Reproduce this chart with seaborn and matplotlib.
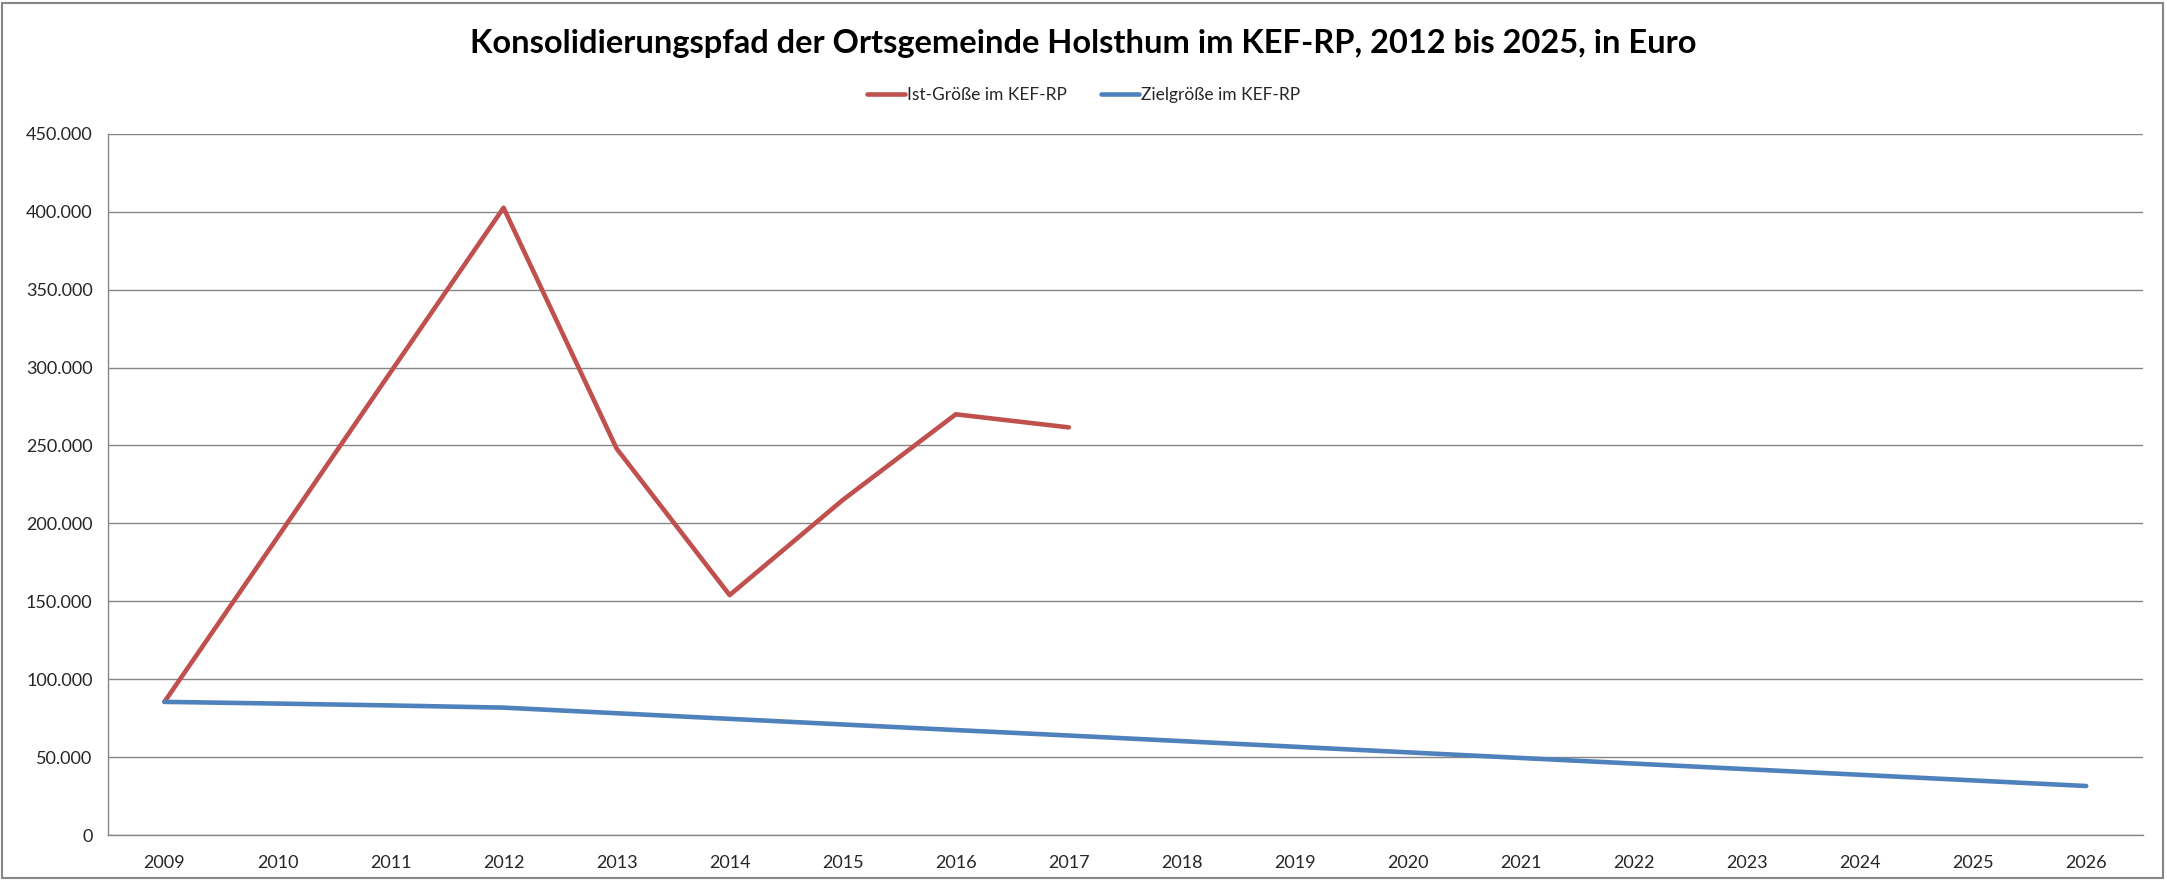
import numpy as np
import pandas as pd
import matplotlib.pyplot as plt
import seaborn as sns
from matplotlib.patches import Rectangle
from matplotlib.ticker import FuncFormatter, FixedLocator

# Daten
jahre = ['2009', '2010', '2011', '2012', '2013', '2014', '2015', '2016', '2017',
         '2018', '2019', '2020', '2021', '2022', '2023', '2024', '2025', '2026']
ist_jahre = jahre[:9]
ist_werte = [85500, 191000, 297000, 402500, 248000, 154000, 215000, 270000, 261600]
ziel_werte = [85500, 84400, 83200, 81800, 78200, 74600, 71000, 67400, 63900,
              60300, 56700, 53100, 49500, 45900, 42300, 38700, 35100, 31500]

farbe_ist = '#C0504D'
farbe_ziel = '#4F81BD'

sns.set_theme(style='white')
plt.rcParams['font.family'] = ['Lato', 'DejaVu Sans']

pos = {j: i for i, j in enumerate(jahre)}
df_ist = pd.DataFrame({'x': [pos[j] for j in ist_jahre], 'wert': ist_werte})
df_ziel = pd.DataFrame({'x': [pos[j] for j in jahre], 'wert': ziel_werte})

fig = plt.figure(figsize=(21.67, 8.8), dpi=100)
ax = fig.add_axes([0.0498, 0.051, 0.939, 0.797])

sns.lineplot(data=df_ist, x='x', y='wert', ax=ax, color=farbe_ist, linewidth=3.3,
             label='Ist-Größe im KEF-RP')
sns.lineplot(data=df_ziel, x='x', y='wert', ax=ax, color=farbe_ziel, linewidth=3.3,
             label='Zielgröße im KEF-RP')

# Achsen
ax.set_xlim(-0.5, len(jahre) - 0.5)
ax.set_ylim(0, 450000)
ax.set_yticks(np.arange(0, 450001, 50000))
ax.yaxis.set_major_formatter(FuncFormatter(lambda v, p: f'{int(v):,}'.replace(',', '.')))
ax.xaxis.set_major_locator(FixedLocator(np.arange(-0.5, len(jahre), 1)))
ax.xaxis.set_minor_locator(FixedLocator(np.arange(len(jahre))))
ax.set_xticklabels([''] * (len(jahre) + 1))
ax.set_xticklabels(jahre, minor=True)
ax.tick_params(axis='x', which='major', length=7, width=1, color='#868686', direction='out')
ax.tick_params(axis='x', which='minor', length=0, labelsize=13, pad=14)
ax.tick_params(axis='y', length=7, width=1, color='#868686', direction='out', labelsize=13, pad=4)
ax.set_xlabel('')
ax.set_ylabel('')

ax.grid(True, axis='y', color='#868686', linewidth=1)
ax.grid(False, axis='x')
for s in ['top', 'right']:
    ax.spines[s].set_visible(False)
for s in ['left', 'bottom']:
    ax.spines[s].set_color('#868686')
    ax.spines[s].set_linewidth(1)

leg = ax.legend(loc='center', frameon=False, ncol=2, fontsize=12.5,
                handlelength=2.2, handletextpad=0.1, columnspacing=2.0)
leg.set_bbox_to_anchor((0.5, 1 - 95 / 880), transform=fig.transFigure)

fig.text(0.5, 1 - 44 / 880, 'Konsolidierungspfad der Ortsgemeinde Holsthum im KEF-RP, 2012 bis 2025, in Euro',
         ha='center', va='center', fontsize=23.5, fontweight='bold', color='black')

# Rahmen um das Diagramm
fig.patches.append(Rectangle((0.001, 0.002), 0.997, 0.995, transform=fig.transFigure,
                             fill=False, edgecolor='#868686', linewidth=1.5))

fig.savefig('out.png', dpi=100)
plt.close()
